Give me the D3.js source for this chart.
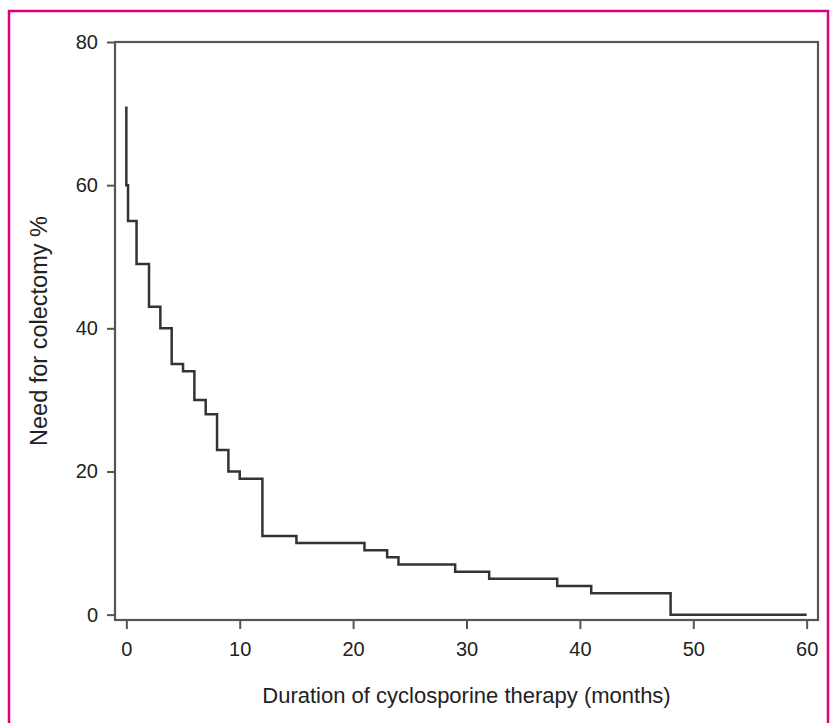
<!DOCTYPE html>
<html>
<head>
<meta charset="utf-8">
<script src="https://cdn.jsdelivr.net/npm/d3@7/dist/d3.min.js"></script>
<style>
  body { margin: 0; background: #fff; }
  text { font-family: "Liberation Sans", Arial, sans-serif; fill: #222; }
</style>
</head>
<body>
<svg id="chart" width="830" height="723"></svg>
<script>
// step curve (months, % needing colectomy)
var months = [0, 0, 0.15, 0.9, 2, 3, 4, 5, 6, 7, 8, 9, 10, 12, 15, 21, 23, 24, 29, 32, 38, 41, 48, 60];
var colectomy = [71, 60, 55, 49, 43, 40, 35, 34, 30, 28, 23, 20, 19, 11, 10, 9, 8, 7, 6, 5, 4, 3, 0, 0];
var xTicks = [0, 10, 20, 30, 40, 50, 60];
var yTicks = [0, 20, 40, 60, 80];
var xTitle = "Duration of cyclosporine therapy (months)";
var yTitle = "Need for colectomy %";

var svg = d3.select("#chart");

// magenta frame round the figure
svg.append("rect")
    .attr("x", 9)
    .attr("y", 11)
    .attr("width", 819)
    .attr("height", 730)
    .attr("fill", "none")
    .attr("stroke", "#e2007a")
    .attr("stroke-width", 2.5);

var box = {left: 115, right: 818, top: 42, bottom: 620};

var x = d3.scaleLinear()
    .domain([-1, 61])
    .range([box.left, box.right]);

var y = d3.scaleLinear()
    .domain([-0.75, 80])
    .range([box.bottom, box.top]);

var axisColor = "#555";

// x axis
var gx = svg.append("g")
    .attr("transform", "translate(0," + box.bottom + ")")
    .call(d3.axisBottom(x).tickValues(xTicks).tickSize(9).tickPadding(13).tickSizeOuter(0));
gx.select(".domain").remove();
gx.selectAll("line").attr("stroke", axisColor).attr("stroke-width", 2);
gx.selectAll("text").attr("font-size", 20).attr("fill", "#222");

// y axis
var gy = svg.append("g")
    .attr("transform", "translate(" + box.left + ",0)")
    .call(d3.axisLeft(y).tickValues(yTicks).tickSize(8).tickPadding(9).tickSizeOuter(0));
gy.select(".domain").remove();
gy.selectAll("line").attr("stroke", axisColor).attr("stroke-width", 2);
gy.selectAll("text").attr("font-size", 20).attr("fill", "#222");

// plot box
svg.append("rect")
    .attr("x", box.left)
    .attr("y", box.top)
    .attr("width", box.right - box.left)
    .attr("height", box.bottom - box.top)
    .attr("fill", "none")
    .attr("stroke", axisColor)
    .attr("stroke-width", 2.2);

// the step curve
var line = d3.line()
    .x(function(d) { return x(d[0]); })
    .y(function(d) { return y(d[1]); })
    .curve(d3.curveStepAfter);

svg.append("path")
    .datum(d3.zip(months, colectomy))
    .attr("d", line)
    .attr("fill", "none")
    .attr("stroke", "#333")
    .attr("stroke-width", 2.5);

// axis titles
svg.append("text")
    .attr("x", (box.left + box.right) / 2)
    .attr("y", 703)
    .attr("text-anchor", "middle")
    .attr("font-size", 22)
    .text(xTitle);

svg.append("text")
    .attr("transform", "translate(47," + (box.top + box.bottom) / 2 + ") rotate(-90)")
    .attr("text-anchor", "middle")
    .attr("font-size", 23.5)
    .text(yTitle);
</script>
</body>
</html>
